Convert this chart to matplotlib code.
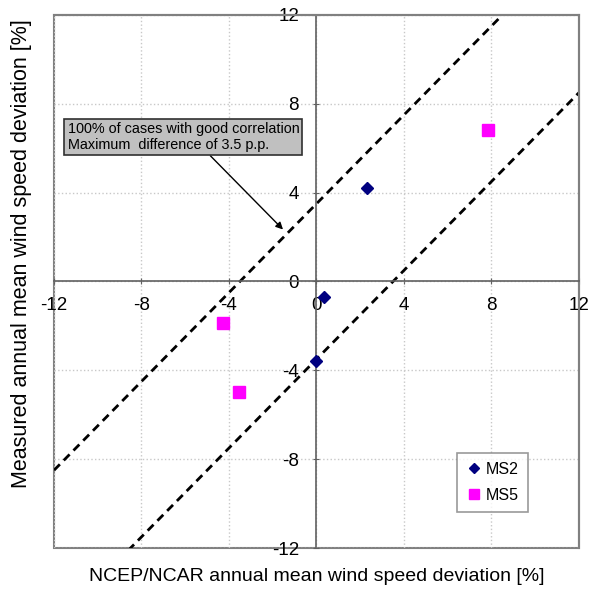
import numpy as np
import matplotlib
matplotlib.use('Agg')
import matplotlib.pyplot as plt
from matplotlib.patches import Rectangle

plt.rcParams['font.family'] = ['Liberation Sans', 'DejaVu Sans']

# ---------- Données ----------
ms2_x = [0.33, -0.03, 2.3]
ms2_y = [-0.68, -3.58, 4.23]
ms5_x = [-4.28, -3.56, 7.85]
ms5_y = [-1.85, -4.99, 6.8]
band = 3.5                      # écart max (p.p.)
line_x = [-12, 12]
ticks = [-12, -8, -4, 0, 4, 8, 12]

fig = plt.figure(figsize=(6.02, 5.89), dpi=100)
ax = fig.add_axes([0.0897, 0.0696, 0.872, 0.905])
ax.set_xlim(-12, 12)
ax.set_ylim(-12, 12)

# grille pointillée
ax.set_xticks(ticks)
ax.set_yticks(ticks)
ax.grid(True, color='#c8c8c8', linestyle=':', linewidth=1.0)

# axes centrés sur zéro
gray = '#808080'
for s in ['left', 'bottom']:
    ax.spines[s].set_position('zero')
    ax.spines[s].set_color('#606060')
    ax.spines[s].set_linewidth(1.2)
for s in ['top', 'right']:
    ax.spines[s].set_color(gray)
    ax.spines[s].set_linewidth(1.5)
ax.add_patch(Rectangle((0, 0), 1, 1, transform=ax.transAxes, fill=False,
                       edgecolor=gray, linewidth=1.5, clip_on=False, zorder=0))
ax.tick_params(direction='inout', length=5, color='#606060', labelsize=13.5)
ax.tick_params(axis='x', pad=9)
ax.tick_params(axis='y', pad=10)
ax.set_xticklabels([str(t) for t in ticks])
ax.set_yticklabels([str(t) for t in ticks])

# droites ±3.5 p.p.
lx = np.array(line_x, dtype=float)
ax.plot(lx, lx + band, color='black', linestyle=(0, (3, 2)), linewidth=2)
ax.plot(lx, lx - band, color='black', linestyle=(0, (3, 2)), linewidth=2)

# points
ax.plot(ms2_x, ms2_y, linestyle='none', marker='D', markersize=6,
        color='#000080', label='MS2', zorder=5)
ax.plot(ms5_x, ms5_y, linestyle='none', marker='s', markersize=8.5,
        color='#ff00ff', label='MS5', zorder=5)

# annotation
ax.annotate('100% of cases with good correlation\nMaximum  difference of 3.5 p.p.',
            xy=(-1.53, 2.34), xytext=(-11.38, 6.5),
            fontsize=10.4, ha='left', va='center', linespacing=1.15,
            bbox=dict(boxstyle='square,pad=0.22', facecolor='#c0c0c0',
                      edgecolor='#303030', linewidth=1.2),
            arrowprops=dict(arrowstyle='-|>', color='black', lw=1,
                            shrinkA=0, shrinkB=0, relpos=(0.6, 0)))

leg = ax.legend(loc='lower right', bbox_to_anchor=(0.903, 0.068), fontsize=11.5,
                frameon=True, fancybox=False, edgecolor=gray, handlelength=1.0,
                handletextpad=0.25, borderpad=0.55, labelspacing=0.7,
                borderaxespad=0, markerscale=0.8)
leg.get_frame().set_linewidth(1.2)

ax.set_xlabel('NCEP/NCAR annual mean wind speed deviation [%]', fontsize=14)
ax.set_ylabel('Measured annual mean wind speed deviation [%]', fontsize=15.5)
ax.xaxis.set_label_coords(0.5, -0.054, transform=ax.transAxes)
ax.xaxis.label.set_va('center')
ax.yaxis.set_label_coords(-0.061, 0.553, transform=ax.transAxes)
ax.yaxis.label.set_va('center')

fig.savefig('out.png', dpi=100)
